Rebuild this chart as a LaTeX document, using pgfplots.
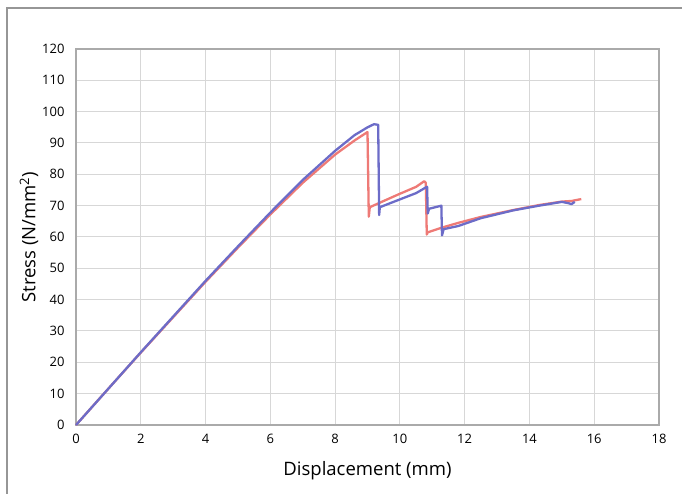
\documentclass[border=0pt]{standalone}
\usepackage{fontspec}
\setmainfont{Open Sans}
\usepackage{pgfplots}
\pgfplotsset{compat=1.18}
\definecolor{redc}{RGB}{238,122,118}
\definecolor{bluec}{RGB}{108,108,200}
\definecolor{gridc}{RGB}{215,215,215}
\definecolor{axc}{RGB}{170,170,170}
\definecolor{framec}{RGB}{150,150,150}
\begin{document}
\begin{tikzpicture}
\useasboundingbox (0pt,0pt) rectangle (682pt,494pt);
\draw[framec, line width=1.2pt] (7pt,0pt) -- (7pt,486pt) -- (682pt,486pt);
\begin{axis}[
  at={(76pt,69pt)}, anchor=south west,
  scale only axis, width=583pt, height=376pt,
  xmin=0, xmax=18, ymin=0, ymax=120,
  xtick={0,2,...,18}, ytick={0,10,...,120},
  grid=major,
  major grid style={gridc, line width=1pt},
  axis line style={axc, line width=1.6pt},
  tick style={draw=none},
  /pgf/number format/assume math mode=true,
  tick label style={font=\fontsize{13}{15}\selectfont, text=black},
  xticklabel style={yshift=-6pt},
  yticklabel style={xshift=-8pt},
  xlabel={Displacement (mm)},
  ylabel={Stress (N/mm\textsuperscript{2})},
  label style={font=\fontsize{18.5}{21}\selectfont},
  xlabel style={at={(axis description cs:0.5,-0.1223)}, anchor=center},
  ylabel style={at={(axis description cs:-0.0806,0.5)}, anchor=center},
  clip=false,
]
\addplot[redc, line width=2.3pt, line join=round] coordinates {
(0,0) (1,11.6) (2,23.1) (3,34.4) (4,45.7) (5,56.6) (6,67.2) (7,77.3) (8,86.3) (8.6,90.8) (9.0,93.5)
(9.04,66.5) (9.07,69.5) (9.5,71.5) (10.0,73.8) (10.5,76) (10.75,77.8) (10.8,77.3)
(10.83,60.8) (10.86,61.5) (11.3,63) (11.8,64.5) (12.5,66.4) (13.5,68.6) (14.3,70.2) (15.0,71.3) (15.3,71.5) (15.6,72.1)
};
\addplot[bluec, line width=2.3pt, line join=round] coordinates {
(0,0) (1,11.6) (2,23.2) (3,34.6) (4,46) (5,57) (6,67.8) (7,78.2) (8,87.5) (8.6,92.5) (9.0,95) (9.2,96) (9.33,95.8)
(9.36,67) (9.38,69.5) (10.0,72) (10.5,74) (10.8,75.8) (10.84,76)
(10.86,67.5) (10.9,69) (11.28,70)
(11.3,60.5) (11.35,62.5) (11.8,63.5) (12.5,66) (13.5,68.5) (14.3,70) (15.0,71.2) (15.2,70.8) (15.3,70.5) (15.4,71.2)
};
\end{axis}
\end{tikzpicture}
\end{document}
